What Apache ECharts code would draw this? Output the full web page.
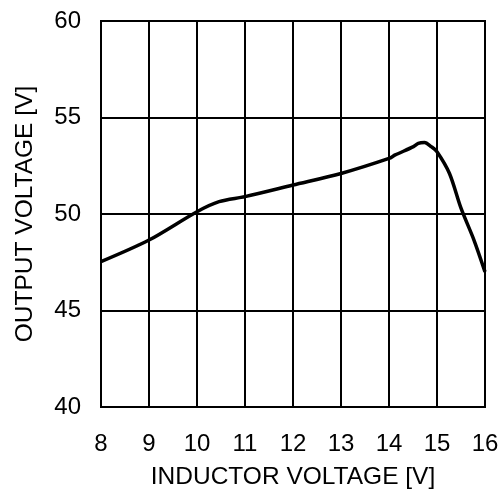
<!DOCTYPE html>
<html>
<head>
<meta charset="utf-8">
<script src="https://cdn.jsdelivr.net/npm/echarts@6/dist/echarts.min.js"></script>
<style>
  html, body { margin: 0; padding: 0; background: #fff; }
  #main { width: 504px; height: 489px; }
</style>
</head>
<body>
<div id="main"></div>
<script>
// inductor voltage [V] vs output voltage [V]
var inductorV = [8, 9, 10, 10.46, 11, 12, 13, 14, 14.13, 14.51, 14.61, 14.74, 14.88, 15, 15.26, 15.5, 15.77, 16];
var outputV = [47.53, 48.65, 50.12, 50.64, 50.9, 51.5, 52.1, 52.88, 53.06, 53.49, 53.66, 53.7, 53.49, 53.23, 52.1, 50.3, 48.65, 47.0];
var xTicks = { min: 8, max: 16, step: 1 };
var yTicks = { min: 40, max: 60, step: 5 };

var pts = [];
for (var i = 0; i < inductorV.length; i++) {
    pts.push([inductorV[i], outputV[i]]);
}

var font = 'Liberation Sans, Arial, sans-serif';
var chart = echarts.init(document.getElementById('main'));
chart.setOption({
    animation: false,
    grid: {
        left: 101, right: 19, top: 21, bottom: 82,
        outerBoundsMode: 'none', containLabel: false,
        show: true, borderColor: '#000', borderWidth: 2
    },
    xAxis: {
        type: 'value',
        min: xTicks.min, max: xTicks.max, interval: xTicks.step,
        name: 'INDUCTOR VOLTAGE [V]',
        nameLocation: 'middle',
        nameGap: 58,
        nameTextStyle: { color: '#000', fontSize: 24.5, fontFamily: font },
        axisLine: { show: true, lineStyle: { color: '#000', width: 2 } },
        axisTick: { show: false },
        axisLabel: { color: '#000', fontSize: 24, fontFamily: font, margin: 25 },
        splitLine: { show: true, lineStyle: { color: '#000', width: 2 } }
    },
    yAxis: {
        type: 'value',
        min: yTicks.min, max: yTicks.max, interval: yTicks.step,
        name: 'OUTPUT VOLTAGE [V]',
        nameLocation: 'middle',
        nameGap: 63,
        nameTextStyle: { color: '#000', fontSize: 24.5, fontFamily: font },
        axisLine: { show: true, lineStyle: { color: '#000', width: 2 } },
        axisTick: { show: false },
        axisLabel: { color: '#000', fontSize: 24, fontFamily: font, margin: 20 },
        splitLine: { show: true, lineStyle: { color: '#000', width: 2 } }
    },
    series: [{
        type: 'line',
        data: pts,
        smooth: 0.3,
        showSymbol: false,
        lineStyle: { color: '#000', width: 3.5 }
    }]
});
</script>
</body>
</html>
